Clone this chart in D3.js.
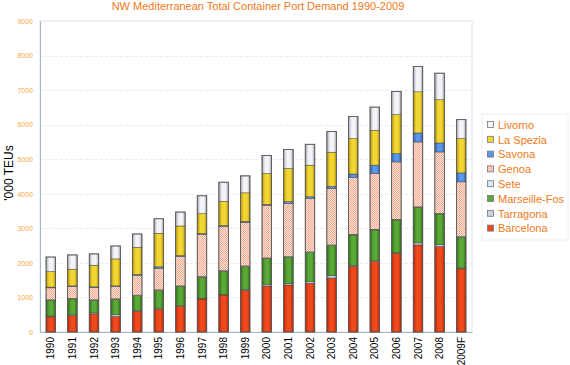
<!DOCTYPE html>
<html><head><meta charset="utf-8">
<script src="https://cdn.jsdelivr.net/npm/d3@7"></script>
<style>body{margin:0;background:#fff}svg{display:block}</style>
</head><body>
<script>
const years = ["1990","1991","1992","1993","1994","1995","1996","1997","1998","1999","2000","2001","2002","2003","2004","2005","2006","2007","2008","2009F"];
const seriesNames = ["Barcelona","Tarragona","Marseille-Fos","Sete","Genoa","Savona","La Spezia","Livorno"];
const barcelona   = [440,475,525,450,600,660,745,955,1070,1205,1330,1360,1410,1560,1900,2040,2280,2520,2470,1830];
const tarragona   = [20,20,30,50,25,30,20,20,20,20,40,40,45,70,20,20,20,60,55,20];
const marseille   = [462,463,362,447,426,512,556,612,667,673,760,765,847,874,889,894,944,1029,893,893];
const sete        = [10,12,15,14,16,18,15,17,20,15,14,16,15,15,18,17,16,15,15,15];
const genoa       = [346,346,355,355,566,626,845,1213,1270,1260,1520,1540,1549,1635,1645,1616,1662,1875,1777,1587];
const savona      = [20,20,20,20,30,40,30,30,30,30,30,50,50,60,100,240,242,260,260,260];
const laSpezia    = [450,481,625,779,789,970,856,576,702,825,893,960,911,988,1025,1009,1126,1193,1252,992];
const livorno     = [422,413,327,375,384,421,404,519,557,490,519,549,606,597,635,673,672,730,768,548];
const yTicks = [0,1000,2000,3000,4000,5000,6000,7000,8000,9000];
const seriesValues = [barcelona,tarragona,marseille,sete,genoa,savona,laSpezia,livorno];
const colors = {
  "Barcelona":["#b82808","#ee4a1c"],
  "Tarragona":["#8090a8","#c8d4e4"],
  "Marseille-Fos":["#2e6e18","#5aa836"],
  "Sete":["#90b0cc","#d4e8f8"],
  "Genoa":["#f0b098","#fcd8c8"],
  "Savona":["#2a60b8","#5a98ec"],
  "La Spezia":["#b89808","#f2d634"],
  "Livorno":["#a8acb8","#f4f4f8"]
};

const W=570,H=365;
const svg=d3.select("body").append("svg").attr("width",W).attr("height",H);
const defs=svg.append("defs");
const m={l:40,r:472,t:21,b:332};

const x=d3.scaleBand().domain(years).range([m.l,m.r]).paddingInner(0.56).paddingOuter(0.28);
const y=d3.scaleLinear().domain([0,9000]).range([m.b,m.t]);

seriesNames.forEach((n,i)=>{
  const [dk,lt]=colors[n];
  const g=defs.append("linearGradient").attr("id","g"+i).attr("x1","0").attr("x2","1").attr("y1","0").attr("y2","0");
  g.append("stop").attr("offset","0%").attr("stop-color",dk);
  g.append("stop").attr("offset","35%").attr("stop-color",lt);
  g.append("stop").attr("offset","70%").attr("stop-color",lt);
  g.append("stop").attr("offset","100%").attr("stop-color",dk);
});
const p=defs.append("pattern").attr("id","chk").attr("width",2).attr("height",2).attr("patternUnits","userSpaceOnUse");
p.append("rect").attr("width",2).attr("height",2).attr("fill","#fde4d8");
p.append("rect").attr("width",1).attr("height",1).attr("fill","#f0a890");
p.append("rect").attr("x",1).attr("y",1).attr("width",1).attr("height",1).attr("fill","#f0a890");

svg.append("text").attr("x",258).attr("y",10).attr("text-anchor","middle")
  .attr("font-family","Liberation Sans, Arial, sans-serif").attr("font-size",11)
  .attr("fill","#f07a20").text("NW Mediterranean Total Container Port Demand 1990-2009");

svg.append("rect").attr("x",m.l).attr("y",m.t).attr("width",m.r-m.l).attr("height",m.b-m.t)
  .attr("fill","none").attr("stroke","#dde2ec").attr("stroke-width",1);

svg.append("g").selectAll("line").data(yTicks.filter(d=>d>0)).join("line")
  .attr("x1",m.l).attr("x2",m.r).attr("y1",d=>Math.round(y(d))+0.5).attr("y2",d=>Math.round(y(d))+0.5)
  .attr("stroke","#e8ecf4").attr("stroke-dasharray","3,2");

const ya=svg.append("g").attr("transform",`translate(${m.l},0)`)
  .call(d3.axisLeft(y).tickValues(yTicks).tickSize(0).tickPadding(7).tickFormat(d3.format("d")));
ya.select(".domain").attr("stroke","#a8b4cc");
ya.selectAll("text").attr("font-family","Liberation Sans, Arial, sans-serif").attr("font-size",7).attr("fill","#f7a848");

const xa=svg.append("g").attr("transform",`translate(0,${m.b})`)
  .call(d3.axisBottom(x).tickSize(0).tickPadding(0));
xa.select(".domain").attr("stroke","#a8b4cc");
xa.selectAll("text").attr("font-family","Liberation Sans, Arial, sans-serif").attr("font-size",10).attr("fill","#000")
  .attr("transform","rotate(-90)").attr("text-anchor","end").attr("dy","0.35em").attr("x",-5).attr("y",0);

svg.append("text").attr("transform","translate(13,173) rotate(-90)").attr("text-anchor","middle")
  .attr("font-family","Liberation Sans, Arial, sans-serif").attr("font-size",12).attr("fill","#000").text("'000 TEUs");

const table=years.map((yr,i)=>{const o={year:yr};seriesNames.forEach((n,k)=>o[n]=seriesValues[k][i]);return o;});
const stack=d3.stack().keys(seriesNames)(table);
const bw=x.bandwidth();
stack.forEach((s,k)=>{
  svg.append("g").selectAll("rect").data(s).join("rect")
    .attr("x",d=>x(d.data.year)).attr("width",bw)
    .attr("y",d=>y(d[1])).attr("height",d=>Math.max(0,y(d[0])-y(d[1])))
    .attr("fill",seriesNames[k]==="Genoa"?"url(#chk)":`url(#g${k})`)
    .attr("stroke","#3a3a3a").attr("stroke-width",0.6).attr("stroke-opacity",0.75);
});
svg.append("g").selectAll("rect").data(table).join("rect")
  .attr("x",d=>x(d.year)).attr("width",bw)
  .attr("y",d=>y(seriesNames.reduce((a,n)=>a+d[n],0))).attr("height",d=>m.b-y(seriesNames.reduce((a,n)=>a+d[n],0)))
  .attr("fill","none").attr("stroke","#555").attr("stroke-width",0.8);

const lg=svg.append("g");
lg.append("rect").attr("x",482).attr("y",114).attr("width",86).attr("height",126).attr("fill","none").attr("stroke","#f0f0f0");
const legendOrder=seriesNames.slice().reverse();
legendOrder.forEach((n,i)=>{
  const yy=125+i*14.8;
  lg.append("rect").attr("x",487.5).attr("y",yy-3.5).attr("width",6).attr("height",6)
    .attr("fill",n==="Genoa"?"url(#chk)":colors[n][1]).attr("stroke","#777").attr("stroke-width",0.8);
  lg.append("text").attr("x",498).attr("y",yy).attr("dy","0.35em")
    .attr("font-family","Liberation Sans, Arial, sans-serif").attr("font-size",11).attr("fill","#f07a20").text(n);
});
</script>
</body></html>
